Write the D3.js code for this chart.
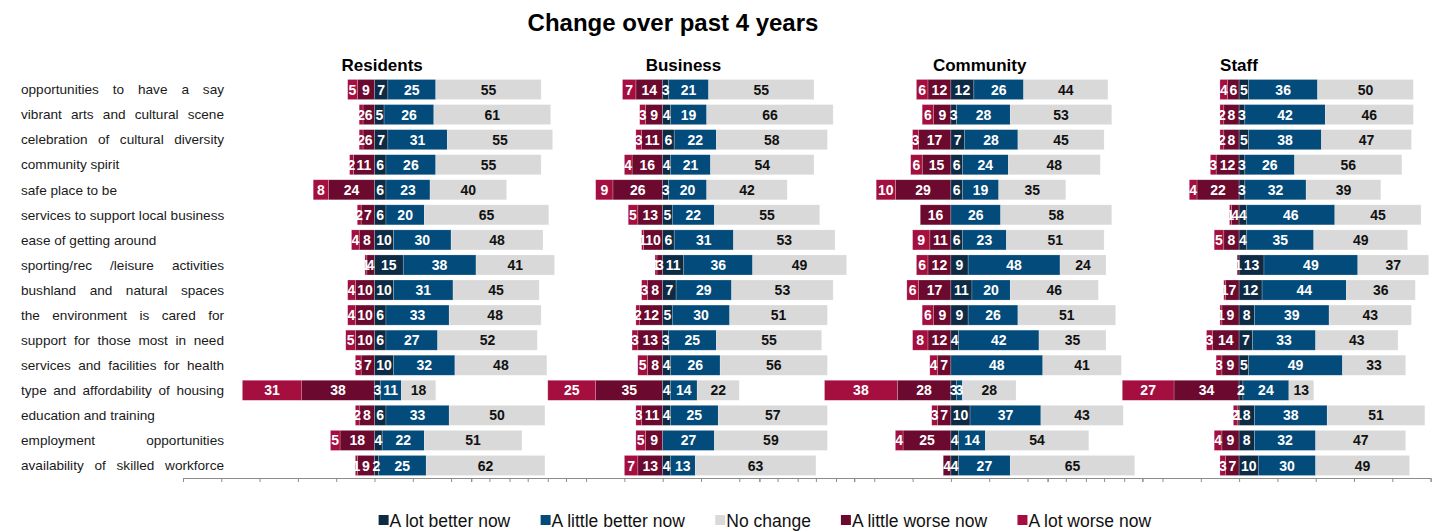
<!DOCTYPE html>
<html>
<head>
<meta charset="utf-8">
<script src="https://cdn.jsdelivr.net/npm/d3@7/dist/d3.min.js"></script>
<style>
  html, body { margin: 0; padding: 0; background: #fff; }
  svg { display: block; font-family: "Liberation Sans", Arial, sans-serif; }
</style>
</head>
<body>
<svg id="chart" width="1436" height="531"></svg>
<script>
// Statements shown down the left side, top to bottom
const statements = [
  "opportunities to have a say",
  "vibrant arts and cultural scene",
  "celebration of cultural diversity",
  "community spirit",
  "safe place to be",
  "services to support local business",
  "ease of getting around",
  "sporting/rec /leisure activities",
  "bushland and natural spaces",
  "the environment is cared for",
  "support for those most in need",
  "services and facilities for  health",
  "type and affordability of housing",
  "education and training",
  "employment opportunities",
  "availability of skilled workforce"
];

// Respondent groups (one panel each)
const groups = ["Residents", "Business", "Community", "Staff"];

// Response categories
const responses = ["A lot better now", "A little better now", "No change", "A little worse now", "A lot worse now"];

// Percentages per group, one entry per statement
const lotBetter = {
  Residents: [7, 5, 7, 6, 6, 6, 10, 15, 10, 6, 6, 10, 3, 6, 4, 2],
  Business:  [3, 4, 6, 4, 3, 5, 6, 11, 7, 5, 3, 4, 4, 4, 0, 4],
  Community: [12, 3, 7, 6, 6, 0, 6, 9, 11, 9, 4, 0, 3, 10, 4, 4],
  Staff:     [5, 3, 5, 3, 3, 4, 4, 13, 12, 8, 7, 5, 2, 8, 8, 10]
};
const littleBetter = {
  Residents: [25, 26, 31, 26, 23, 20, 30, 38, 31, 33, 27, 32, 11, 33, 22, 25],
  Business:  [21, 19, 22, 21, 20, 22, 31, 36, 29, 30, 25, 26, 14, 25, 27, 13],
  Community: [26, 28, 28, 24, 19, 26, 23, 48, 20, 26, 42, 48, 3, 37, 14, 27],
  Staff:     [36, 42, 38, 26, 32, 46, 35, 49, 44, 39, 33, 49, 24, 38, 32, 30]
};
const noChange = {
  Residents: [55, 61, 55, 55, 40, 65, 48, 41, 45, 48, 52, 48, 18, 50, 51, 62],
  Business:  [55, 66, 58, 54, 42, 55, 53, 49, 53, 51, 55, 56, 22, 57, 59, 63],
  Community: [44, 53, 45, 48, 35, 58, 51, 24, 46, 51, 35, 41, 28, 43, 54, 65],
  Staff:     [50, 46, 47, 56, 39, 45, 49, 37, 36, 43, 43, 33, 13, 51, 47, 49]
};
const littleWorse = {
  Residents: [9, 6, 6, 11, 24, 7, 8, 4, 10, 10, 10, 7, 38, 8, 18, 9],
  Business:  [14, 9, 11, 16, 26, 13, 10, 3, 8, 12, 13, 8, 35, 11, 9, 13],
  Community: [12, 9, 17, 15, 29, 16, 11, 12, 17, 9, 12, 7, 28, 7, 25, 4],
  Staff:     [6, 8, 8, 12, 22, 4, 8, 1, 7, 9, 14, 9, 34, 1, 9, 7]
};
const lotWorse = {
  Residents: [5, 2, 2, 2, 8, 2, 4, 1, 4, 4, 5, 3, 31, 2, 5, 1],
  Business:  [7, 3, 3, 4, 9, 5, 1, 1, 3, 2, 3, 5, 25, 3, 5, 7],
  Community: [6, 6, 3, 6, 10, 0, 9, 6, 6, 6, 8, 4, 38, 3, 4, 0],
  Staff:     [4, 2, 2, 3, 4, 1, 5, 0, 1, 1, 3, 3, 27, 2, 4, 3]
};

// Axis tick values (shared by every panel; drawn without labels)
const tickValues = [-100, -80, -60, -40, -20, 0, 20, 40, 60, 80, 100];

const colors = {
  "A lot better now":   "#0e2b45",
  "A little better now":"#034b7b",
  "No change":          "#d9d9d9",
  "A little worse now": "#6b0a2e",
  "A lot worse now":    "#a50f40"
};

const svg = d3.select("#chart");

// Layout
const panelZero0 = 374.5, panelStep = 288.2, halfSpan = 191.5;
const plotTop = 77, plotBottom = 478;
const titleOffsets = [-33, -17, -18, -19];

const y = d3.scaleBand().domain(statements).range([plotTop, plotBottom]).paddingInner(0.2).paddingOuter(0.1);

// Main title
svg.append("text")
  .attr("x", 673).attr("y", 31)
  .attr("text-anchor", "middle")
  .attr("font-size", 24).attr("font-weight", "bold")
  .attr("fill", "#000")
  .text("Change over past 4 years");

// Statement labels; long ones are word-justified out to a common right edge
const labelX = 21, labelRight = 224, labelSize = 13.6;
const labels = svg.append("g").attr("font-size", labelSize).attr("fill", "#1a1a1a");
statements.forEach(s => {
  const yy = y(s) + y.bandwidth() / 2;
  const probe = labels.append("text").attr("x", labelX).attr("y", yy).attr("dy", "0.35em").text(s);
  const natural = probe.node().getComputedTextLength();
  const target = labelRight - labelX;
  if (natural < 150 || natural >= target) return;
  probe.remove();
  const words = s.split(/\s+/);
  const t = labels.append("text").attr("y", yy).attr("dy", "0.35em");
  const spans = words.map(w => t.append("tspan").text(w));
  const widths = spans.map(sp => sp.node().getComputedTextLength());
  const gapW = (target - d3.sum(widths)) / (words.length - 1);
  let px = labelX;
  spans.forEach((sp, i) => { sp.attr("x", px); px += widths[i] + gapW; });
});

groups.forEach((g, gi) => {
  const zero = panelZero0 + gi * panelStep;
  const x = d3.scaleLinear().domain([-100, 100]).range([zero - halfSpan, zero + halfSpan]);
  const panel = svg.append("g");

  // Axis
  panel.append("g")
    .attr("transform", `translate(0,${plotBottom})`)
    .call(d3.axisBottom(x).tickValues(tickValues).tickSize(4).tickFormat(""))
    .call(a => a.selectAll("path, line").attr("stroke", "#8c8c8c").attr("stroke-width", 1));

  // Group title
  panel.append("text")
    .attr("x", zero + titleOffsets[gi]).attr("y", 71)
    .attr("font-size", 17).attr("font-weight", "bold")
    .attr("fill", "#000")
    .text(g);

  // Build stacked segments: worse to the left of zero, better / no change to the right
  const segs = [];
  statements.forEach((s, i) => {
    let left = 0;
    [["A little worse now", littleWorse[g][i]], ["A lot worse now", lotWorse[g][i]]].forEach(([k, v]) => {
      segs.push({ s, k, v, x0: left - v, x1: left });
      left -= v;
    });
    let right = 0;
    [["A lot better now", lotBetter[g][i]], ["A little better now", littleBetter[g][i]], ["No change", noChange[g][i]]].forEach(([k, v]) => {
      segs.push({ s, k, v, x0: right, x1: right + v });
      right += v;
    });
  });
  const shown = segs.filter(d => d.v > 0);

  panel.append("g").selectAll("rect").data(shown).join("rect")
    .attr("x", d => x(d.x0))
    .attr("y", d => y(d.s))
    .attr("width", d => x(d.x1) - x(d.x0))
    .attr("height", y.bandwidth())
    .attr("fill", d => colors[d.k])
    .attr("stroke", "#fff").attr("stroke-opacity", 0.35).attr("stroke-width", 0.6);

  panel.append("g").selectAll("text").data(shown).join("text")
    .attr("x", d => x((d.x0 + d.x1) / 2))
    .attr("y", d => y(d.s) + y.bandwidth() / 2)
    .attr("dy", "0.36em")
    .attr("text-anchor", "middle")
    .attr("font-size", 14).attr("font-weight", "bold")
    .attr("fill", d => d.k === "No change" ? "#111" : "#fff")
    .text(d => d.v);
});

// Legend, centred under the panels
const legend = svg.append("g");
const items = legend.selectAll("g").data(responses).join("g");
items.append("rect").attr("x", 0).attr("y", -6).attr("width", 10).attr("height", 10)
  .attr("fill", d => colors[d]);
items.append("text").attr("x", 11).attr("y", 0).attr("dy", "0.33em")
  .attr("font-size", 17.5).attr("fill", "#111").text(d => d);
let cx = 0;
const gap = 30;
items.each(function() {
  const w = this.getBBox().width;
  d3.select(this).attr("transform", `translate(${cx},0)`);
  cx += w + gap;
});
const total = cx - gap;
legend.attr("transform", `translate(${765 - total / 2},521)`);
</script>
</body>
</html>
